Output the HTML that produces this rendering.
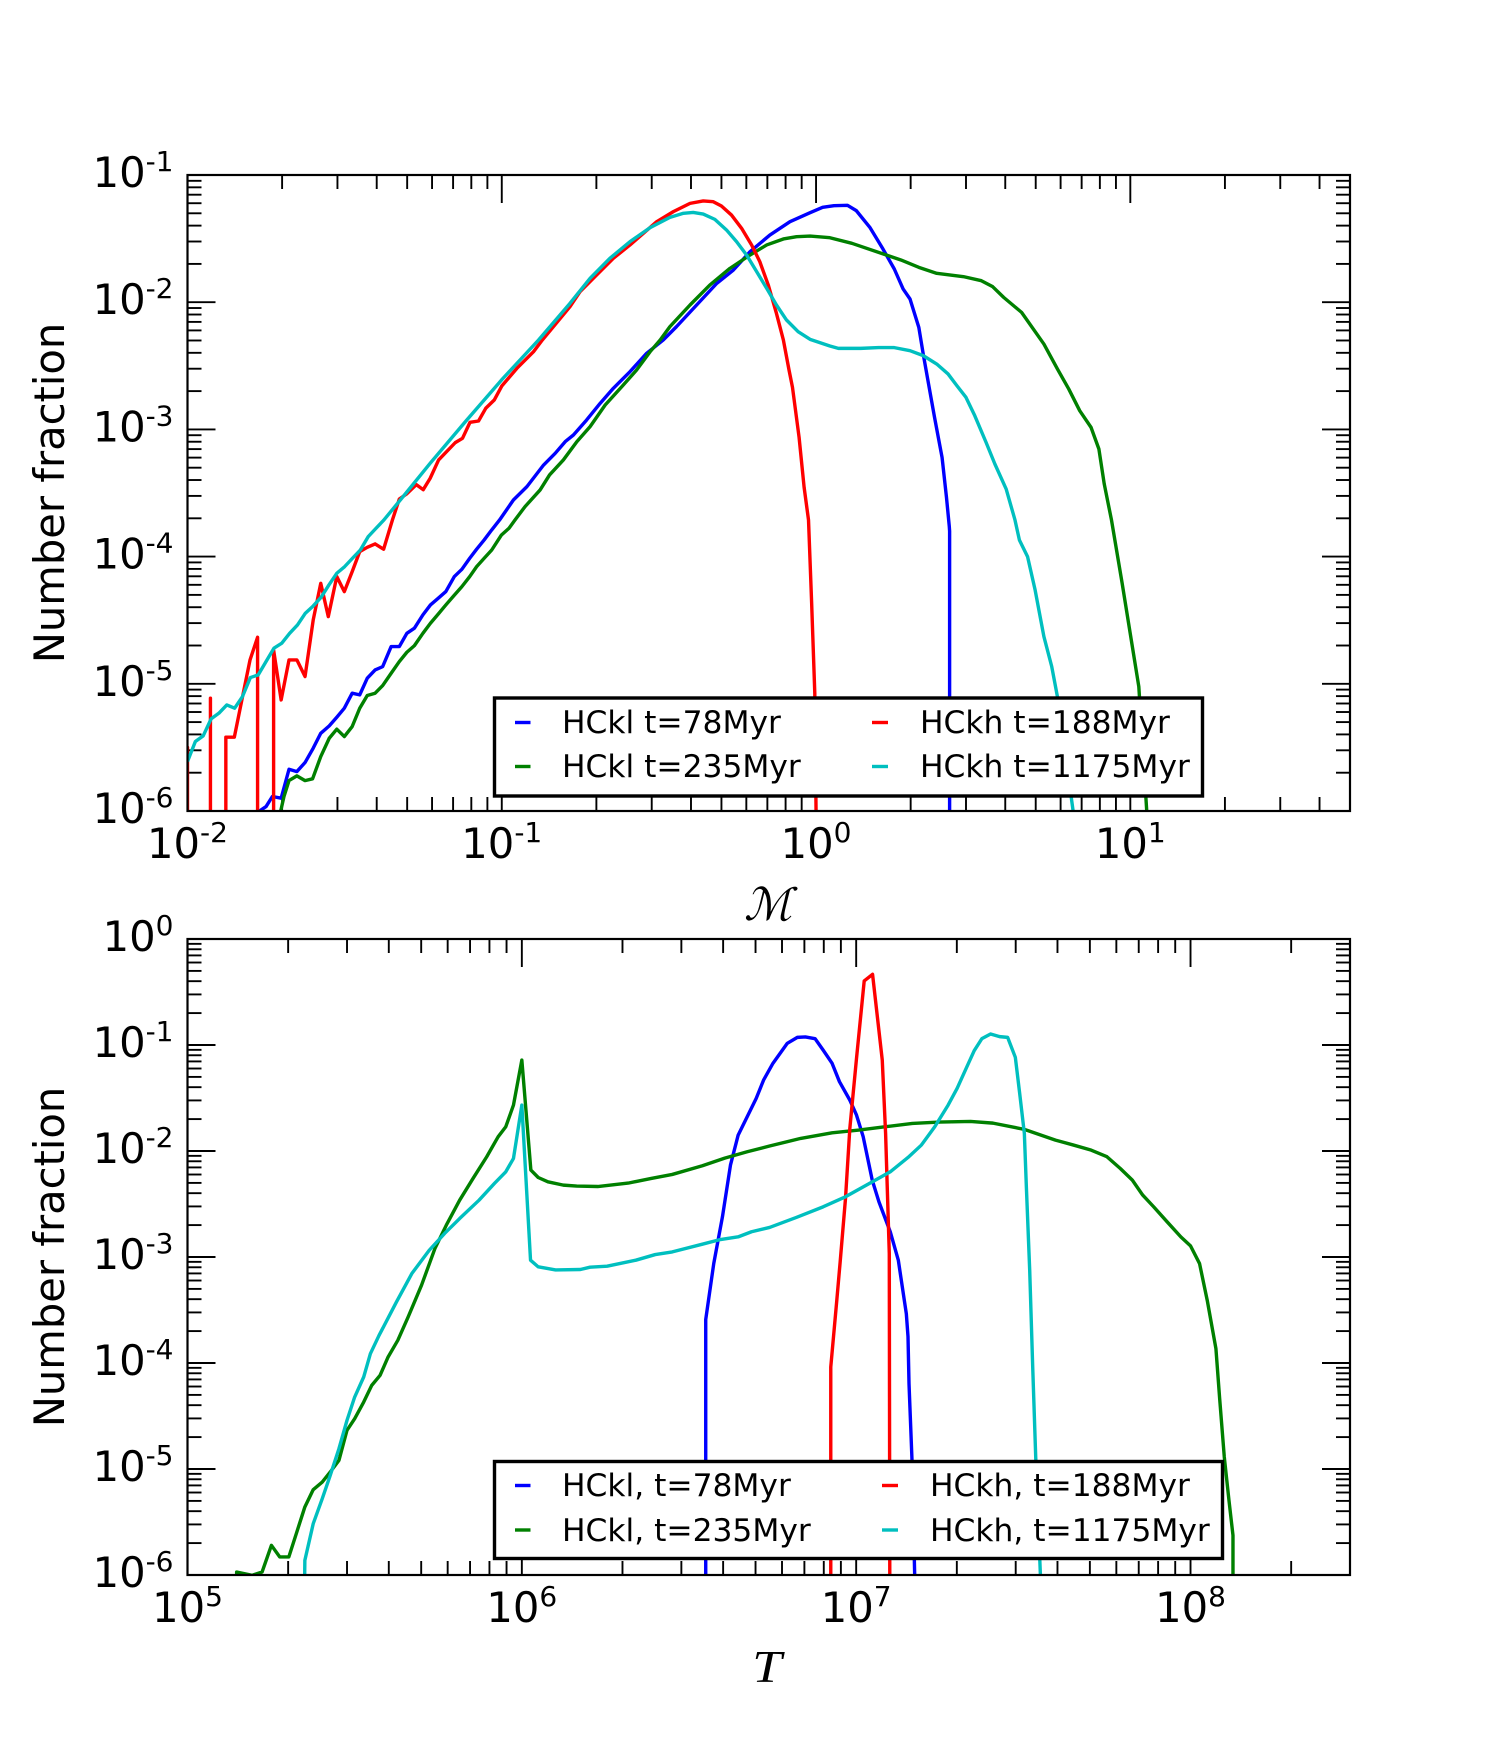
<!DOCTYPE html>
<html>
<head>
<meta charset="utf-8">
<title>Number fraction distributions</title>
<style>
html,body{margin:0;padding:0;background:#fff;width:1500px;height:1750px;overflow:hidden}
svg{display:block}
text{font-family:"DejaVu Sans","Liberation Sans",sans-serif;fill:#000}
.legend-text{font-size:31.3px}
.axis-title{font-size:41.67px}
.tick-label{font-size:41.67px}
</style>
</head>
<body>
<svg id="figure" xmlns="http://www.w3.org/2000/svg" width="1500" height="1750" viewBox="0 0 1500 1750">
<rect x="0" y="0" width="1500" height="1750" fill="#fff"/>
<defs>
<clipPath id="clip-top"><rect x="187.5" y="175" width="1162.5" height="636"/></clipPath>
<clipPath id="clip-bottom"><rect x="187.5" y="939" width="1162.5" height="636"/></clipPath>
</defs>
<g id="top-panel"></g>
<g id="bottom-panel"></g>

<text class="axis-title" transform="translate(64,493) rotate(-90)" text-anchor="middle">Number fraction</text>
<text class="axis-title" transform="translate(64,1257) rotate(-90)" text-anchor="middle">Number fraction</text>
<text x="768" y="920" text-anchor="middle" style="font-family:'DejaVu Serif','Liberation Serif',serif;font-size:45px;font-style:italic">ℳ</text>
<text transform="translate(767,1682) scale(1.15,1)" text-anchor="middle" style="font-family:'Liberation Serif',serif;font-size:46px;font-style:italic">T</text>

<g>
<rect x="494.5" y="698" width="708" height="98" fill="#fff" stroke="#000" stroke-width="3.4"/>
<line x1="515" x2="530.5" y1="722.5" y2="722.5" stroke="#0000ff" stroke-width="3.4"/>
<text class="legend-text" x="562" y="733">HCkl t=78Myr</text>
<line x1="515" x2="530.5" y1="766.5" y2="766.5" stroke="#008000" stroke-width="3.4"/>
<text class="legend-text" x="562" y="777">HCkl t=235Myr</text>
<line x1="872" x2="888" y1="722.5" y2="722.5" stroke="#ff0000" stroke-width="3.4"/>
<text class="legend-text" x="920" y="733">HCkh t=188Myr</text>
<line x1="872" x2="888" y1="766.5" y2="766.5" stroke="#00bfbf" stroke-width="3.4"/>
<text class="legend-text" x="920" y="777">HCkh t=1175Myr</text>
</g>

<g>
<rect x="494.5" y="1461.5" width="728" height="97" fill="#fff" stroke="#000" stroke-width="3.4"/>
<line x1="515" x2="530.5" y1="1485.5" y2="1485.5" stroke="#0000ff" stroke-width="3.4"/>
<text class="legend-text" x="562" y="1496">HCkl, t=78Myr</text>
<line x1="515" x2="530.5" y1="1530" y2="1530" stroke="#008000" stroke-width="3.4"/>
<text class="legend-text" x="562" y="1541">HCkl, t=235Myr</text>
<line x1="882" x2="898" y1="1485.5" y2="1485.5" stroke="#ff0000" stroke-width="3.4"/>
<text class="legend-text" x="930" y="1496">HCkh, t=188Myr</text>
<line x1="882" x2="898" y1="1530" y2="1530" stroke="#00bfbf" stroke-width="3.4"/>
<text class="legend-text" x="930" y="1541">HCkh, t=1175Myr</text>
</g>
</svg>

<script>
// All values are log10 of the plotted quantity. -7 marks an empty bin (zero count).
const machTickExponents = [-2, -1, 0, 1];
const machFractionTickExponents = [-1, -2, -3, -4, -5, -6];
const tempTickExponents = [5, 6, 7, 8];
const tempFractionTickExponents = [0, -1, -2, -3, -4, -5, -6];
const minorMultipliers = [2, 3, 4, 5, 6, 7, 8, 9];

const machLimits = [-2, 1.699];
const machFractionLimits = [-6, -1];
const tempLimits = [5, 8.477];
const tempFractionLimits = [-6, 0];

// Upper panel: Mach number distribution
const machHCkl78 = [-1.771,-1.750,-1.730,-1.702,-1.677,-1.652,-1.626,-1.600,-1.576,-1.549,-1.525,-1.501,-1.476,-1.452,-1.428,-1.403,-1.379,-1.352,-1.326,-1.302,-1.278,-1.251,-1.227,-1.202,-1.178,-1.151,-1.127,-1.102,-1.080,-1.056,-1.032,-1.007,
-0.963,-0.920,-0.867,-0.830,-0.798,-0.772,-0.730,-0.687,-0.645,-0.592,-0.539,-0.486,-0.444,-0.380,-0.316,-0.263,-0.210,-0.147,-0.083,-0.019,
0.021,0.057,0.100,0.128,0.171,0.213,0.249,0.277,0.299,0.327,0.341,0.358,0.377,0.401,0.415,0.424,0.425,0.425];
const fracHCkl78 = [-6.0,-5.965,-5.886,-5.899,-5.672,-5.690,-5.619,-5.506,-5.389,-5.331,-5.263,-5.192,-5.074,-5.087,-4.956,-4.891,-4.865,-4.707,-4.707,-4.603,-4.563,-4.458,-4.380,-4.327,-4.275,-4.157,-4.100,-4.013,-3.942,-3.869,-3.790,-3.712,
-3.555,-3.450,-3.280,-3.188,-3.096,-3.044,-2.926,-2.795,-2.677,-2.546,-2.402,-2.297,-2.192,-2.022,-1.852,-1.747,-1.603,-1.472,-1.367,-1.296,
-1.254,-1.241,-1.238,-1.280,-1.411,-1.582,-1.739,-1.896,-1.975,-2.198,-2.407,-2.643,-2.905,-3.220,-3.534,-3.764,-3.80,-7];

const machHCkl235 = [-1.708,-1.693,-1.677,-1.652,-1.626,-1.602,-1.576,-1.549,-1.525,-1.501,-1.476,-1.452,-1.428,-1.403,-1.379,-1.352,-1.326,-1.302,-1.278,-1.251,-1.227,-1.202,-1.178,-1.153,-1.127,-1.102,-1.080,-1.056,-1.032,-1.001,-0.977,
-0.958,-0.926,-0.878,-0.848,-0.804,-0.761,-0.719,-0.671,-0.618,-0.571,-0.528,-0.496,-0.465,-0.401,-0.338,-0.274,-0.210,-0.157,-0.104,-0.062,-0.019,0.044,
0.114,0.220,0.270,0.327,0.384,0.469,0.526,0.562,0.597,0.654,0.725,0.768,0.804,0.839,0.875,0.900,0.917,0.940,0.974,1.003,1.027,1.050,1.054];
const fracHCkl235 = [-6.05,-5.886,-5.761,-5.724,-5.761,-5.747,-5.572,-5.428,-5.357,-5.415,-5.336,-5.192,-5.092,-5.074,-5.014,-4.917,-4.825,-4.752,-4.700,-4.603,-4.524,-4.451,-4.380,-4.309,-4.236,-4.157,-4.079,-4.013,-3.948,-3.830,-3.777,
-3.712,-3.607,-3.476,-3.358,-3.240,-3.096,-2.978,-2.808,-2.664,-2.533,-2.389,-2.297,-2.192,-2.022,-1.865,-1.734,-1.629,-1.550,-1.503,-1.485,-1.480,-1.493,
-1.537,-1.626,-1.668,-1.726,-1.773,-1.799,-1.831,-1.878,-1.962,-2.080,-2.329,-2.525,-2.682,-2.853,-2.984,-3.154,-3.429,-3.712,-4.210,-4.655,-5.022,-5.913,-6.07];

const machHCkh188 = [-2.0,-2.0,-2.0,-1.927,-1.927,-1.927,-1.878,-1.878,-1.851,-1.827,-1.801,-1.777,-1.777,-1.726,-1.726,-1.702,-1.677,-1.652,-1.626,-1.600,-1.576,-1.552,-1.525,-1.501,-1.476,-1.452,-1.428,-1.403,-1.376,-1.348,-1.326,-1.303,-1.272,-1.250,
-1.228,-1.201,-1.148,-1.125,-1.101,-1.074,-1.051,-1.024,-1.000,-0.952,-0.899,-0.871,-0.783,-0.751,-0.698,-0.645,-0.592,-0.507,-0.454,-0.401,-0.359,-0.327,-0.301,-0.269,-0.237,-0.205,-0.179,-0.152,-0.126,-0.104,-0.086,
-0.075,-0.054,-0.038,-0.024,-0.014,-0.004,0.0,0.001];
const fracHCkh188 = [-7,-5.5,-7,-7,-5.113,-7,-7,-5.420,-5.420,-5.127,-4.812,-4.634,-7,-7,-4.734,-5.127,-4.812,-4.812,-4.943,-4.498,-4.210,-4.472,-4.157,-4.275,-4.118,-3.961,-3.927,-3.900,-3.942,-3.712,-3.547,-3.508,-3.434,-3.474,
-3.385,-3.240,-3.104,-3.070,-2.944,-2.934,-2.834,-2.769,-2.659,-2.520,-2.389,-2.297,-2.035,-1.917,-1.786,-1.655,-1.550,-1.367,-1.288,-1.223,-1.204,-1.210,-1.244,-1.315,-1.419,-1.550,-1.681,-1.865,-2.088,-2.297,-2.533,
-2.669,-3.062,-3.455,-3.712,-4.367,-5.074,-6.0,-6.07];

const machHCkh1175 = [-2.0,-1.975,-1.95,-1.925,-1.90,-1.875,-1.85,-1.825,-1.80,-1.775,-1.75,-1.725,-1.70,-1.675,-1.65,-1.625,-1.60,-1.575,-1.55,-1.525,-1.50,-1.475,-1.45,-1.425,-1.40,-1.375,
-1.303,-1.228,-1.113,-0.998,-0.883,-0.783,-0.719,-0.656,-0.592,-0.528,-0.465,-0.422,-0.391,-0.359,-0.322,-0.285,-0.253,-0.221,-0.189,-0.157,-0.126,-0.094,-0.057,-0.019,0.044,
0.071,0.142,0.199,0.249,0.299,0.341,0.384,0.420,0.448,0.477,0.505,0.541,0.569,0.605,0.633,0.647,0.673,0.697,0.725,0.750,0.768,0.818,0.822];
const fracHCkh1175 = [-5.611,-5.454,-5.409,-5.276,-5.231,-5.166,-5.192,-5.100,-4.951,-4.930,-4.825,-4.720,-4.681,-4.603,-4.537,-4.445,-4.388,-4.320,-4.223,-4.131,-4.079,-4.013,-3.948,-3.843,-3.777,-3.712,
-3.495,-3.267,-2.931,-2.604,-2.297,-2.009,-1.812,-1.655,-1.524,-1.414,-1.333,-1.301,-1.294,-1.307,-1.349,-1.432,-1.524,-1.629,-1.760,-1.891,-2.022,-2.140,-2.232,-2.292,-2.344,
-2.363,-2.363,-2.357,-2.357,-2.381,-2.420,-2.486,-2.564,-2.656,-2.748,-2.892,-3.102,-3.272,-3.469,-3.712,-3.869,-4.0,-4.262,-4.629,-4.865,-5.100,-6.0,-6.07];

// Lower panel: temperature distribution
const tempHCkl78 = [6.55,6.55,6.574,6.600,6.624,6.647,6.674,6.701,6.723,6.751,6.794,6.824,6.848,6.877,6.901,6.928,6.950,6.981,7.001,7.021,7.048,7.068,7.102,7.126,7.144,7.150,7.155,7.158,7.167,7.175,7.177];
const tFracHCkl78 = [-7,-3.59,-3.062,-2.621,-2.133,-1.850,-1.677,-1.504,-1.331,-1.173,-0.984,-0.928,-0.924,-0.940,-1.047,-1.173,-1.346,-1.520,-1.661,-1.866,-2.275,-2.479,-2.763,-3.030,-3.409,-3.535,-3.75,-4.195,-4.918,-6.0,-6.2];

const tempHCkl235 = [5.147,5.147,5.193,5.223,5.251,5.276,5.303,5.327,5.351,5.376,5.403,5.427,5.453,5.477,5.500,5.527,5.551,5.576,5.600,5.629,5.660,5.700,5.740,5.774,5.814,5.854,5.895,5.929,5.952,5.975,6.0,6.027,6.049,6.078,6.124,6.164,6.227,6.318,6.387,6.450,6.540,6.607,6.674,6.741,6.834,6.928,7.008,7.088,7.168,7.249,7.342,7.409,7.503,7.596,7.650,7.703,7.750,7.790,7.826,7.857,7.890,7.930,7.971,8.0,8.027,8.050,8.076,8.087,8.101,8.115,8.127,8.127];
const tFracHCkl235 = [-7,-5.972,-6.003,-5.972,-5.720,-5.830,-5.830,-5.594,-5.358,-5.195,-5.123,-5.028,-4.918,-4.635,-4.525,-4.368,-4.211,-4.116,-3.943,-3.786,-3.565,-3.266,-2.920,-2.700,-2.464,-2.259,-2.054,-1.866,-1.771,-1.567,-1.142,-2.180,-2.250,-2.291,-2.322,-2.331,-2.335,-2.303,-2.259,-2.221,-2.139,-2.067,-2.007,-1.953,-1.881,-1.828,-1.803,-1.771,-1.740,-1.727,-1.721,-1.737,-1.796,-1.897,-1.944,-1.992,-2.054,-2.165,-2.275,-2.416,-2.527,-2.668,-2.810,-2.895,-3.062,-3.409,-3.865,-4.33,-4.887,-5.296,-5.626,-6.2];

const tempHCkh188 = [6.924,6.924,6.942,6.952,6.968,6.981,7.001,7.024,7.049,7.078,7.088,7.099,7.101];
const tFracHCkh188 = [-7,-4.038,-3.409,-3.05,-2.45,-1.787,-1.126,-0.396,-0.333,-1.142,-1.834,-2.966,-7];

const tempHCkh1175 = [5.347,5.351,5.376,5.403,5.427,5.453,5.477,5.500,5.527,5.547,5.573,5.625,5.671,5.723,5.769,5.814,5.872,5.918,5.952,5.975,6.0,6.026,6.049,6.101,6.175,6.204,6.255,6.341,6.399,6.450,6.540,6.594,6.647,6.687,6.741,6.821,6.901,6.968,7.048,7.102,7.155,7.195,7.235,7.275,7.302,7.329,7.353,7.376,7.402,7.429,7.453,7.476,7.489,7.503,7.509,7.519,7.528,7.537,7.551,7.553];
const tFracHCkh1175 = [-7,-5.862,-5.516,-5.280,-5.060,-4.808,-4.541,-4.321,-4.132,-3.912,-3.739,-3.424,-3.156,-2.936,-2.778,-2.637,-2.464,-2.306,-2.196,-2.070,-1.567,-3.030,-3.093,-3.122,-3.118,-3.096,-3.087,-3.030,-2.977,-2.952,-2.879,-2.835,-2.810,-2.762,-2.721,-2.627,-2.527,-2.432,-2.291,-2.196,-2.061,-1.944,-1.771,-1.567,-1.409,-1.220,-1.054,-0.940,-0.896,-0.921,-0.928,-1.116,-1.456,-1.834,-2.338,-3.125,-4.038,-4.887,-6.0,-6.2];

const SVG_NS = 'http://www.w3.org/2000/svg';

function makeScale(domain, range) {
  return function (v) {
    return range[0] + (v - domain[0]) * (range[1] - range[0]) / (domain[1] - domain[0]);
  };
}

function addLine(parent, x1, y1, x2, y2, width, name) {
  const el = document.createElementNS(SVG_NS, 'line');
  el.setAttribute('x1', x1);
  el.setAttribute('y1', y1);
  el.setAttribute('x2', x2);
  el.setAttribute('y2', y2);
  el.setAttribute('stroke', '#000');
  el.setAttribute('stroke-width', width);
  
  
  parent.appendChild(el);
}

function addPowerLabel(parent, x, y, exponent, anchor, name) {
  const el = document.createElementNS(SVG_NS, 'text');
  el.setAttribute('class', 'tick-label');
  el.setAttribute('x', x);
  el.setAttribute('y', y);
  el.setAttribute('text-anchor', anchor);
  
  
  el.appendChild(document.createTextNode('10'));
  const sup = document.createElementNS(SVG_NS, 'tspan');
  sup.setAttribute('dy', '-16');
  sup.setAttribute('font-size', '28');
  sup.textContent = String(exponent);
  el.appendChild(sup);
  parent.appendChild(el);
}

function drawSeries(parent, xs, ys, sx, sy, color, clipId, name) {
  const pts = xs.map(function (x, i) { return sx(x).toFixed(2) + ',' + sy(ys[i]).toFixed(2); });
  const el = document.createElementNS(SVG_NS, 'polyline');
  el.setAttribute('points', pts.join(' '));
  el.setAttribute('fill', 'none');
  el.setAttribute('stroke', color);
  el.setAttribute('stroke-width', '3.4');
  el.setAttribute('stroke-linejoin', 'round');
  el.setAttribute('clip-path', 'url(#' + clipId + ')');
  
  
  parent.appendChild(el);
}

function drawAxes(parent, box, xLim, yLim, xExps, yExps, prefix) {
  const sx = makeScale(xLim, [box.left, box.right]);
  const sy = makeScale(yLim, [box.bottom, box.top]);
  const majorLen = 28, minorLen = 14, tickW = 1.9;

  const inX = function (v) { return v >= xLim[0] - 1e-6 && v <= xLim[1] + 1e-6; };
  const inY = function (v) { return v >= yLim[0] - 1e-6 && v <= yLim[1] + 1e-6; };

  for (let d = Math.floor(xLim[0]); d <= Math.ceil(xLim[1]); d++) {
    minorMultipliers.forEach(function (m) {
      const v = d + Math.log10(m);
      if (!inX(v)) return;
      const px = sx(v);
      addLine(parent, px, box.top, px, box.top + minorLen, tickW, prefix + '-x-minor-tick-top');
      addLine(parent, px, box.bottom, px, box.bottom - minorLen, tickW, prefix + '-x-minor-tick-bottom');
    });
  }
  for (let d = Math.floor(yLim[0]); d <= Math.ceil(yLim[1]); d++) {
    minorMultipliers.forEach(function (m) {
      const v = d + Math.log10(m);
      if (!inY(v)) return;
      const py = sy(v);
      addLine(parent, box.left, py, box.left + minorLen, py, tickW, prefix + '-y-minor-tick-left');
      addLine(parent, box.right, py, box.right - minorLen, py, tickW, prefix + '-y-minor-tick-right');
    });
  }
  xExps.forEach(function (e) {
    const px = sx(e);
    addLine(parent, px, box.top, px, box.top + majorLen, tickW, prefix + '-x-major-tick-top');
    addLine(parent, px, box.bottom, px, box.bottom - majorLen, tickW, prefix + '-x-major-tick-bottom');
    addPowerLabel(parent, px, box.bottom + 47, e, 'middle', prefix + '-x-tick-label');
  });
  yExps.forEach(function (e) {
    const py = sy(e);
    addLine(parent, box.left, py, box.left + majorLen, py, tickW, prefix + '-y-major-tick-left');
    addLine(parent, box.right, py, box.right - majorLen, py, tickW, prefix + '-y-major-tick-right');
    addPowerLabel(parent, 173.5, py + 12, e, 'end', prefix + '-y-tick-label');
  });
  return { sx: sx, sy: sy };
}

function addFrame(parent, box, name) {
  const el = document.createElementNS(SVG_NS, 'rect');
  el.setAttribute('x', box.left);
  el.setAttribute('y', box.top);
  el.setAttribute('width', box.right - box.left);
  el.setAttribute('height', box.bottom - box.top);
  el.setAttribute('fill', 'none');
  el.setAttribute('stroke', '#000');
  el.setAttribute('stroke-width', '2.2');
  
  
  parent.appendChild(el);
}

const topBox = { left: 187.5, right: 1350, top: 175, bottom: 811 };
const bottomBox = { left: 187.5, right: 1350, top: 939, bottom: 1575 };

const topGroup = document.getElementById('top-panel');
const bottomGroup = document.getElementById('bottom-panel');

const topAxes = drawAxes(topGroup, topBox, machLimits, machFractionLimits, machTickExponents, machFractionTickExponents, 'mach');
drawSeries(topGroup, machHCkl78, fracHCkl78, topAxes.sx, topAxes.sy, '#0000ff', 'clip-top', 'mach-line-hckl-78');
drawSeries(topGroup, machHCkl235, fracHCkl235, topAxes.sx, topAxes.sy, '#008000', 'clip-top', 'mach-line-hckl-235');
drawSeries(topGroup, machHCkh188, fracHCkh188, topAxes.sx, topAxes.sy, '#ff0000', 'clip-top', 'mach-line-hckh-188');
drawSeries(topGroup, machHCkh1175, fracHCkh1175, topAxes.sx, topAxes.sy, '#00bfbf', 'clip-top', 'mach-line-hckh-1175');
addFrame(topGroup, topBox, 'mach-axes-frame');

const bottomAxes = drawAxes(bottomGroup, bottomBox, tempLimits, tempFractionLimits, tempTickExponents, tempFractionTickExponents, 'temperature');
drawSeries(bottomGroup, tempHCkl78, tFracHCkl78, bottomAxes.sx, bottomAxes.sy, '#0000ff', 'clip-bottom', 'temperature-line-hckl-78');
drawSeries(bottomGroup, tempHCkl235, tFracHCkl235, bottomAxes.sx, bottomAxes.sy, '#008000', 'clip-bottom', 'temperature-line-hckl-235');
drawSeries(bottomGroup, tempHCkh188, tFracHCkh188, bottomAxes.sx, bottomAxes.sy, '#ff0000', 'clip-bottom', 'temperature-line-hckh-188');
drawSeries(bottomGroup, tempHCkh1175, tFracHCkh1175, bottomAxes.sx, bottomAxes.sy, '#00bfbf', 'clip-bottom', 'temperature-line-hckh-1175');
addFrame(bottomGroup, bottomBox, 'temperature-axes-frame');
</script>
</body>
</html>
